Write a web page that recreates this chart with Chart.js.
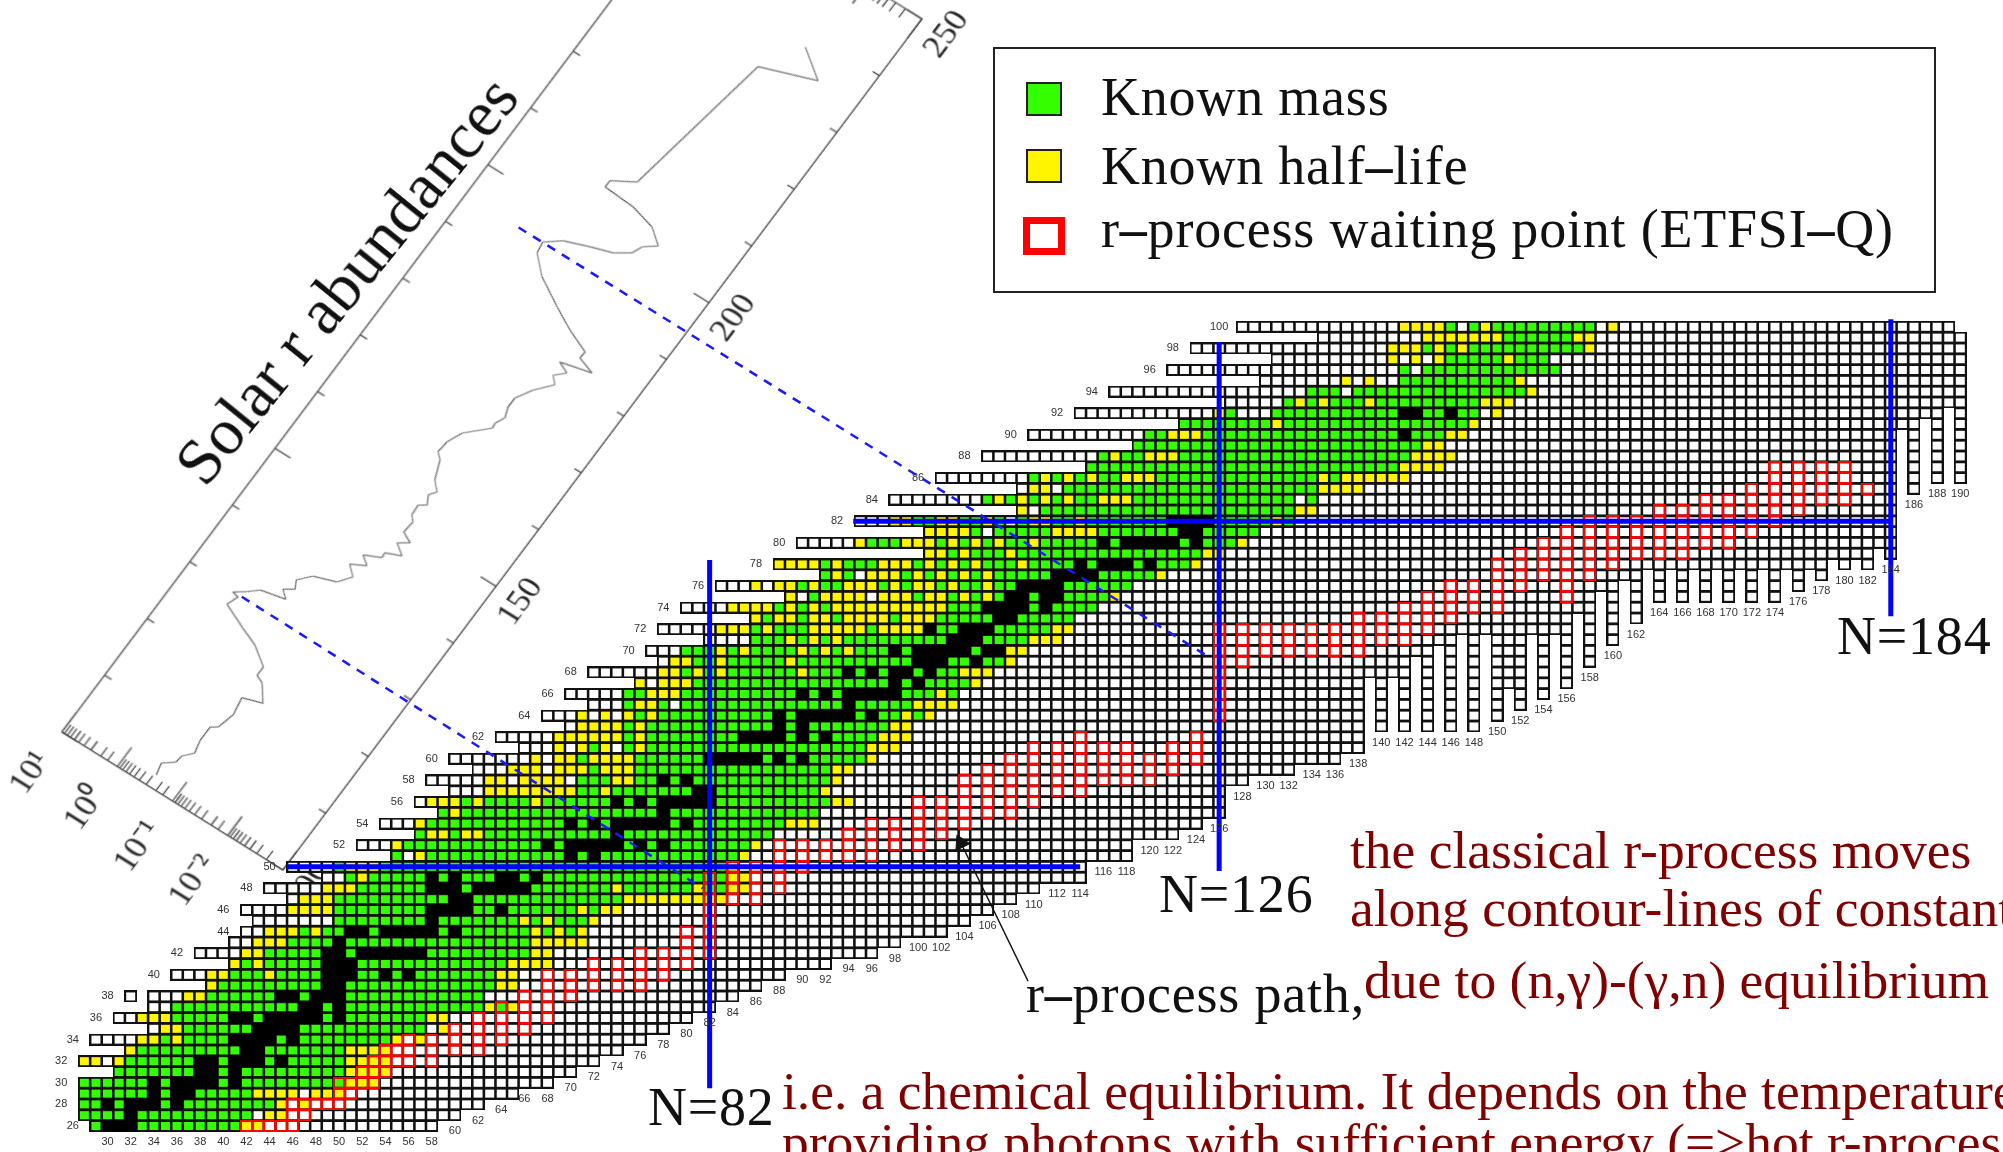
<!DOCTYPE html>
<html>
<head>
<meta charset="utf-8">
<title>r-process path</title>
<script src="https://cdn.jsdelivr.net/npm/chart.js@4/dist/chart.umd.min.js"></script>
<style>
html, body { margin: 0; padding: 0; background: #fff; }
body { position: relative; width: 2003px; height: 1152px; overflow: hidden; font-family: "Liberation Serif", serif; }
canvas { position: absolute; left: 0; top: 0; }
#abundance-chart { transform-origin: 0 0; }
.note { position: absolute; white-space: nowrap; color: #800000; font-size: 53.5px; line-height: 56px; }
.tag { position: absolute; white-space: nowrap; color: #111; font-size: 54px; line-height: 60px; letter-spacing: 0.8px; }
#legend-box { position: absolute; left: 993px; top: 47px; width: 939px; height: 242px; border: 2px solid #222; }
.swatch { position: absolute; box-sizing: border-box; }
.legend-text { position: absolute; left: 106px; white-space: nowrap; color: #111; font-size: 54px; line-height: 60px; letter-spacing: 0.8px; }
.dash { font-weight: bold; }
</style>
</head>
<body>
<canvas id="abundance-chart" width="1230" height="360"></canvas>
<canvas id="chart-nuclides" width="2003" height="1152"></canvas>

<div id="legend-box">
  <div class="swatch" style="left:31px;top:33px;width:36px;height:34px;background:#33ff00;border:2px solid #222"></div>
  <div class="legend-text" style="top:18px">Known mass</div>
  <div class="swatch" style="left:31px;top:100px;width:36px;height:34px;background:#fff500;border:2px solid #222"></div>
  <div class="legend-text" style="top:87px">Known half<span class="dash">–</span>life</div>
  <div class="swatch" style="left:28px;top:168px;width:42px;height:38px;border:7px solid #ff0000"></div>
  <div class="legend-text" style="top:150px">r<span class="dash">–</span>process waiting point (ETFSI<span class="dash">–</span>Q)</div>
</div>

<div class="tag" style="left:346px;top:280px;font-size:66px;letter-spacing:0;transform:translate(-50%,-50%) rotate(-51deg)">Solar r abundances</div>
<div class="tag" style="left:648px;top:1077px">N=82</div>
<div class="tag" style="left:1159px;top:864px">N=126</div>
<div class="tag" style="left:1837px;top:606px">N=184</div>
<div class="tag" style="left:1026px;top:964px">r<span class="dash">–</span>process path,</div>

<div class="note" style="left:1350px;top:822px">the classical r-process moves</div>
<div class="note" style="left:1350px;top:880px">along contour-lines of constant</div>
<div class="note" style="left:1364px;top:952px">due to (n,γ)-(γ,n) equilibrium</div>
<div class="note" style="left:782px;top:1063px">i.e. a chemical equilibrium. It depends on the temperature</div>
<div class="note" style="left:782px;top:1114px">providing photons with sufficient energy (=&gt;hot r-process</div>

<script>
// first N of every row, Z = 26 .. 100
var rowFirst = [29,28,28,28,28,31,28,32,29,34,31,34,32,39,36,41,38,41,42,43,42,46,44,49,46,
    55,52,57,54,59,57,60,58,62,60,66,64,70,68,72,70,76,72,78,77,82,78,86,80,89,
    83,92,88,101,90,101,95,109,98,109,102,115,106,119,110,123,114,127,117,130,122,131,124,135,128];

// lowest Z of every column, N = 28 .. 190
var colBottom = [27,
    26,26,26,26,26,26,26,26,26,26,26,26,26,26,26,26,26,26,26,26,26,26,26,26,26,26,26,26,26,26,
    27,27,28,28,29,29,29,30,30,30,31,31,32,32,33,33,34,34,35,35,36,36,37,37,38,38,39,39,40,40,
    41,41,41,41,42,42,42,42,43,43,44,44,44,44,45,45,46,46,47,47,48,48,49,49,49,49,51,51,51,51,
    53,53,53,53,54,54,55,55,58,58,59,59,59,59,60,60,60,60,61,61,68,63,68,63,70,63,71,63,72,63,
    72,64,67,65,72,66,72,67,74,69,76,71,77,73,78,75,78,75,78,75,78,75,78,75,78,75,78,76,78,77,
    79,78,79,78,80,79,91,85,92,86,93,86];
var topRowLast = 189;
var gapN = 33, gapZ = 38;

// coloured part of every row: first N and runs
// g known mass, y known half-life, k stable, w nothing known
var colorStart = [29,28,28,28,28,31,28,32,33,35,33,36,37,39,39,41,42,43,44,50,46,47,49,51,50,
    55,55,57,57,59,58,63,63,65,67,69,69,71,71,75,75,76,78,79,80,86,83,86,84,89,
    86,92,88,101,95,101,98,109,106,110,110,115,116,119,120,123,126,132,134,137,142,141,141,144,142];
var colorRuns = [
    'g 3k 9g 2y 3w', '4g k 10g w 2y', '2g k g 3k g k 8g y w y', '6g k g 2k 5g 4y w 3y',
    '6g k g 4k g k 9g 3y', '7g 2k g k 9g 4y', '2y w y 6g 2k g 3k g k 5g 4y', 'y 9g 2k 7g 4y',
    '2y g y 4g 4k g k 8g y w y', '2y 6g 4k 11g w y', '3y 5g 2k g 5k g k 7g 2y', '11g 2k g k 12g y g y',
    '2y 6g 2k g 3k 12g', 'y 9g 2k 13g 2y', '2y 3g y 4g 3k 2g k g k 7g 2y', 'y g y 5g 3k 13g 4y',
    '2y 5g 2k g 6k 9g 2y', '3y 4g k 16g 5y', '3y g y 2g 2k g 5k g k 6g y g y g y', '8g k 7g y g y 3g y',
    '4y 8g 4k 2g k 6g y g 2y', '3y 10g 2k 13g 9y', '3y 6g 3k g 5k 7g y 6g y 2g 2y',
    'g y 5g k g k 3g 2k g k 16g 2y', 'g 3y 30g y',
    'g w y 12g k g k 12g y', 'y 12g k g 5k g k g k 7g y', 'g 2y g 2y 11g k 13g', 'y 12g k g k g 5k g k 8g 3y',
    'g y 17g k 13g', '3y g y 4g y 6g k g k g 5k 10g 2y', '8y 2g y 7g 2k 9g y',
    '2y w 4y w 3g 2y 2g k g k 12g y', '3y w 3y g 3y 17g 2y', 'y w 2y g 4y 6g 5k g k g k 5g y',
    'y w y g y w g y 19g 3y', '6y g y 8g 4k g k g k 4g 3y', '4y g y 11g k g k 7g 2y',
    'y w y w y g y 10g k g 5k g k 2g y g y', 'g 2y g w 14g k 5g 4y',
    '2g 3y 10g k g k g 5k 3g y g', 'y w 3y 17g k g k 4g y', '2y g y g y 6g y 3g k g k g 2k g k 2g 3y',
    '2y 2g y 5g y 10g 3k 2g k 2g y', '3g y g y 4g y g y g y 3g k g 5k g 2k 2y',
    '3g y g y g y 9g 3k 4g 3y', '3y g y 3g 5y g 4y k 2g 3k 5g 2y',
    'y g 2y g 2y g 4y g 3y 5g 2k 5g', '4y g y g y g 10y 3g 4k g k 4g',
    'y w g 4y w 3y g 2y g y g y g 2k g 2k 4g y',
    'y w 2y g y 2g 3y g y g 2y g y 2g y 2g 4k 6g', 'g y g w 3y g y g y g y g y 5g 4k 5g y',
    '4y g y 3g 3y g y g y g y 3g y 4g k g 3k g k 3g y', '2y g y 3g y 16g 2y',
    'y 3g 3y g y g y g y 2g y 5g k g 5k g k 3g y', '4y g w 5g 4y 7g 2k 5g',
    '2y 2g 2y 2g y g w g 2y 2g y 7g 4k 5g y g', 'y w 22g 2y',
    'g y g y g y g y 2g 3y 14g w g', '2y w 22g 4y', 'g y g y g y 2g 3y 14g y g 6y',
    '27g 4y', 'g y 2g 3y 20g 4y', '25g 2y', '2g 3y 17g k 3g 2y', '8g y 16g y',
    'y g 3w 11g 2k 2g k 2g w y', 'g y g y 3g y 9g 3y', '3g w 15g y', 'y w y 2w 10g y',
    'g w 12g', 'y w y w y 5g y 3g', '3y g y g y 10g y', '7y 6g 2y', '4y g w g y 9g w y'
];

// r-process waiting points: column N from Z low to Z high
var waitN = [42,43,44,45,46,47,48,49,50,51,52,53,54,55,56,58,60,62,64,66,68,70,72,74,76,78,80,
    82,84,86,88,90,92,94,96,98,100,102,104,106,108,110,112,114,116,118,120,122,124,
    126,128,130,132,134,136,138,140,142,144,146,148,150,152,154,156,158,160,162,164,166,168,170,172,174,176,178,180,182];
var waitLow = [26,26,26,26,26,27,28,28,28,29,30,30,31,32,32,32,33,33,34,35,36,38,39,39,39,40,41,
    42,47,47,48,50,51,51,51,52,52,53,54,55,55,56,57,57,58,58,58,59,60,
    64,69,70,70,70,70,70,71,71,72,73,74,74,76,77,75,77,78,79,79,79,80,80,81,82,83,84,84,85];
var waitHigh = [26,26,26,26,28,28,28,28,30,30,31,32,33,33,34,34,35,36,37,38,40,40,41,41,42,42,44,
    49,50,50,52,52,52,53,54,54,56,56,58,59,60,61,61,62,61,61,60,61,62,
    72,72,72,72,72,72,73,73,74,75,76,76,78,79,80,81,82,82,82,83,83,84,84,85,87,87,87,87,85];

// closed shells
var shellN = [82, 126, 184];
var shellNLow = [29.5, 49.6, 73.2];
var shellNHigh = [78.4, 98.6, 100.7];
var shellZ = [50, 82];
var shellZLow = [45.5, 94.4];
var shellZHigh = [114, 184];

// dashed links from the abundance peaks to the shell crossings, and the path arrow
var linkN = [[41.6, 81.4], [65.5, 125.3]];
var linkZ = [[75, 48], [109.2, 69.3]];
var arrowN = [109.5, 103.7];
var arrowZ = [39.4, 52.2];

var labelZ = [26,28,30,32,34,36,38,40,42,44,46,48,50,52,54,56,58,60,62,64,66,68,70,72,74,76,78,80,82,84,86,88,90,92,94,96,98,100];

// solar r abundances
var massA = [101.9,103.7,104.9,106.1,107.4,109.3,111.7,112.3,114.9,117.6,118.5,120.9,121.4,122.9,124.9,126.0,127.7,129.4,129.6,130.7,
    131.9,132.3,132.7,133.7,134.6,135.8,137.5,138.6,140.4,141.7,142.8,143.8,144.9,145.7,146.6,147.8,148.8,149.6,151.5,152.3,
    153.9,154.6,155.9,156.9,158.2,161.0,161.8,163.7,165.9,168.7,169.5,170.9,172.4,174.0,176.3,178.6,179.6,180.9,181.7,182.8,
    183.7,184.8,186.3,188.1,190.6,193.1,194.8,196.5,197.8,198.8,200.2,201.7,203.0,204.8,205.8,206.1,207.2,209.1,232.0,234.8,237.9];
var logAbundance = [-0.56,-0.51,-0.68,-0.70,-0.83,-0.78,-0.78,-0.88,-0.95,-0.90,-1.21,-1.01,-0.88,-0.88,-0.57,-0.27,0.15,0.08,0.19,0.02,
    -0.13,-0.33,-0.53,-0.40,-0.55,-0.48,-0.65,-1.00,-1.15,-0.99,-1.22,-1.07,-1.33,-1.32,-1.56,-1.38,-1.54,-1.36,-1.38,-1.30,
    -1.29,-1.40,-1.32,-1.40,-1.26,-1.14,-1.04,-1.06,-1.17,-1.49,-1.48,-1.55,-1.49,-1.49,-1.64,-1.86,-1.75,-1.90,-1.71,-2.21,
    -1.92,-1.93,-1.54,-1.17,-0.70,-0.42,-0.39,-0.63,-1.02,-1.36,-1.59,-1.66,-1.85,-1.60,-1.18,-0.65,-0.65,-1.00,-1.42,-2.29,-1.82];
var massLabels = [100, 150, 200, 250];
var decadeValues = [0.01, 0.1, 1, 10];
var decadeLabels = ['10⁻²', '10⁻¹', '10⁰', '10¹'];

function cellImage(fill, edge) {
    var c = document.createElement('canvas');
    c.width = 13;
    c.height = 12;
    var g = c.getContext('2d');
    if (fill) {
        g.fillStyle = fill;
        g.fillRect(0, 0, 13, 12);
    }
    g.strokeStyle = edge;
    g.lineWidth = 2;
    g.strokeRect(1, 1, 11, 10);
    return c;
}

function cellDataset(points, img) {
    return {
        data: points,
        pointStyle: img,
        pointRadius: 5,
        showLine: false
    };
}

function lineDataset(points, color, width, dash) {
    return {
        data: points,
        showLine: true,
        borderColor: color,
        borderWidth: width,
        borderDash: dash || [],
        pointRadius: 0
    };
}

function drawNuclides() {
    var whites = [], mass = [], half = [], stable = [], waits = [];
    var i, j;
    for (i = 0; i < rowFirst.length; i++) {
        var z = 26 + i;
        for (var n = rowFirst[i]; n <= 190; n++) {
            if (z >= colBottom[n - 28] && !(z == 100 && n > topRowLast) && !(z == gapZ && n == gapN)) {
                whites.push({x: n, y: z});
            }
        }
        var pos = colorStart[i];
        var runs = colorRuns[i].split(' ');
        for (j = 0; j < runs.length; j++) {
            var count = runs[j].length > 1 ? parseInt(runs[j]) : 1;
            var kind = runs[j].charAt(runs[j].length - 1);
            for (var c = 0; c < count; c++) {
                if (kind == 'g') mass.push({x: pos, y: z});
                if (kind == 'y') half.push({x: pos, y: z});
                if (kind == 'k') stable.push({x: pos, y: z});
                pos++;
            }
        }
    }
    for (i = 0; i < waitN.length; i++) {
        for (j = waitLow[i]; j <= waitHigh[i]; j++) {
            waits.push({x: waitN[i], y: j});
        }
    }

    var datasets = [];
    for (i = 0; i < shellN.length; i++) {
        datasets.push(lineDataset([{x: shellN[i], y: shellNLow[i]}, {x: shellN[i], y: shellNHigh[i]}], '#0000ff', 5));
    }
    for (i = 0; i < shellZ.length; i++) {
        datasets.push(lineDataset([{x: shellZLow[i], y: shellZ[i]}, {x: shellZHigh[i], y: shellZ[i]}], '#0000ff', 5));
    }
    for (i = 0; i < linkN.length; i++) {
        datasets.push(lineDataset([{x: linkN[i][0], y: linkZ[i][0]}, {x: linkN[i][1], y: linkZ[i][1]}], '#1a1aff', 2.5, [9, 8]));
    }
    datasets.push(lineDataset([{x: arrowN[0], y: arrowZ[0]}, {x: arrowN[1], y: arrowZ[1]}], '#111', 1.5));
    datasets.push({
        data: [{x: arrowN[1], y: arrowZ[1]}],
        pointStyle: 'triangle',
        pointRadius: 9,
        pointRotation: -26,
        pointBackgroundColor: '#111',
        pointBorderColor: '#111',
        showLine: false
    });
    datasets.push(cellDataset(waits, cellImage(null, '#ff0000')));
    datasets.push(cellDataset(stable, cellImage('#000', '#000')));
    datasets.push(cellDataset(half, cellImage('#fff500', '#111')));
    datasets.push(cellDataset(mass, cellImage('#33ff00', '#111')));
    datasets.push(cellDataset(whites, cellImage('#fff', '#111')));

    // small Z and N numbers beside the staircase
    var numberLabels = {
        id: 'numberLabels',
        afterDraw: function (chart) {
            var ctx = chart.ctx;
            var sx = chart.scales.x, sy = chart.scales.y;
            ctx.save();
            ctx.font = '11px "Liberation Sans"';
            ctx.fillStyle = '#333';
            ctx.textAlign = 'center';
            ctx.textBaseline = 'middle';
            for (var a = 0; a < labelZ.length; a++) {
                ctx.fillText(String(labelZ[a]), sx.getPixelForValue(rowFirst[labelZ[a] - 26] - 2), sy.getPixelForValue(labelZ[a]));
            }
            for (var b = 30; b <= 190; b += 2) {
                ctx.fillText(String(b), sx.getPixelForValue(b), sy.getPixelForValue(colBottom[b - 28] - 1.5));
            }
            ctx.restore();
        }
    };

    new Chart(document.getElementById('chart-nuclides'), {
        type: 'scatter',
        data: {datasets: datasets},
        plugins: [numberLabels],
        options: {
            responsive: false,
            animation: false,
            devicePixelRatio: 1,
            layout: {padding: 0, autoPadding: false},
            plugins: {legend: {display: false}, tooltip: {enabled: false}},
            scales: {
                x: {type: 'linear', display: false, min: 20.717, max: 193.69},
                y: {type: 'linear', display: false, min: 23.59, max: 130.26}
            }
        }
    });
}

function drawAbundances() {
    var points = [];
    for (var i = 0; i < massA.length; i++) {
        points.push({x: massA[i], y: Math.pow(10, logAbundance[i])});
    }

    // ticks point inward on all four edges, as in the original plot
    var frameTicks = {
        id: 'frameTicks',
        afterDatasetsDraw: function (chart) {
            var ctx = chart.ctx, area = chart.chartArea;
            var sx = chart.scales.x, sy = chart.scales.y;
            ctx.save();
            ctx.strokeStyle = '#444';
            ctx.lineWidth = 1.3;
            ctx.strokeRect(area.left, area.top, area.width, area.height);
            ctx.beginPath();
            sx.ticks.forEach(function (t) {
                var len = t.value % 50 == 0 ? 18 : 8;
                var px = sx.getPixelForValue(t.value);
                ctx.moveTo(px, area.bottom);
                ctx.lineTo(px, area.bottom - len);
                ctx.moveTo(px, area.top);
                ctx.lineTo(px, area.top + len);
            });
            sy.ticks.forEach(function (t) {
                var len = decadeValues.indexOf(t.value) >= 0 || t.value == 0.001 ? 24 : 11;
                var py = sy.getPixelForValue(t.value);
                ctx.moveTo(area.left, py);
                ctx.lineTo(area.left + len, py);
                ctx.moveTo(area.right, py);
                ctx.lineTo(area.right - len, py);
            });
            ctx.stroke();
            ctx.restore();
        }
    };

    var canvas = document.getElementById('abundance-chart');
    var chart = new Chart(canvas, {
        type: 'scatter',
        data: {
            datasets: [{
                data: points,
                showLine: true,
                borderColor: '#333',
                borderWidth: 1,
                pointRadius: 0
            }]
        },
        plugins: [frameTicks],
        options: {
            responsive: false,
            animation: false,
            devicePixelRatio: 1,
            layout: {padding: {left: 20, right: 30, top: 10, bottom: 10}, autoPadding: false},
            plugins: {legend: {display: false}, tooltip: {enabled: false}},
            scales: {
                x: {
                    type: 'linear',
                    min: 100,
                    max: 250,
                    grid: {display: false},
                    border: {display: false},
                    ticks: {
                        stepSize: 10,
                        autoSkip: false,
                        maxRotation: 0,
                        padding: 0,
                        color: '#222',
                        font: {family: 'Liberation Serif', size: 34},
                        callback: function (v) {
                            return massLabels.indexOf(v) >= 0 ? String(v) : '';
                        }
                    }
                },
                y: {
                    type: 'logarithmic',
                    min: 0.001,
                    max: 10,
                    grid: {display: false},
                    border: {display: false},
                    ticks: {
                        autoSkip: false,
                        padding: 22,
                        color: '#222',
                        font: {family: 'Liberation Serif', size: 34},
                        callback: function (v) {
                            var k = decadeValues.indexOf(v);
                            return k >= 0 ? decadeLabels[k] : '';
                        }
                    }
                }
            }
        }
    });

    // map the plot rectangle onto the slanted frame of the page
    var area = chart.chartArea;
    var a = 639 / area.width, b = -851 / area.width;
    var c = 221 / area.height, d = 138 / area.height;
    var e = 283 - a * area.left - c * area.bottom;
    var f = 870 - b * area.left - d * area.bottom;
    canvas.style.transform = 'matrix(' + [a, b, c, d, e, f].join(',') + ')';
}

drawAbundances();
drawNuclides();
</script>
</body>
</html>
